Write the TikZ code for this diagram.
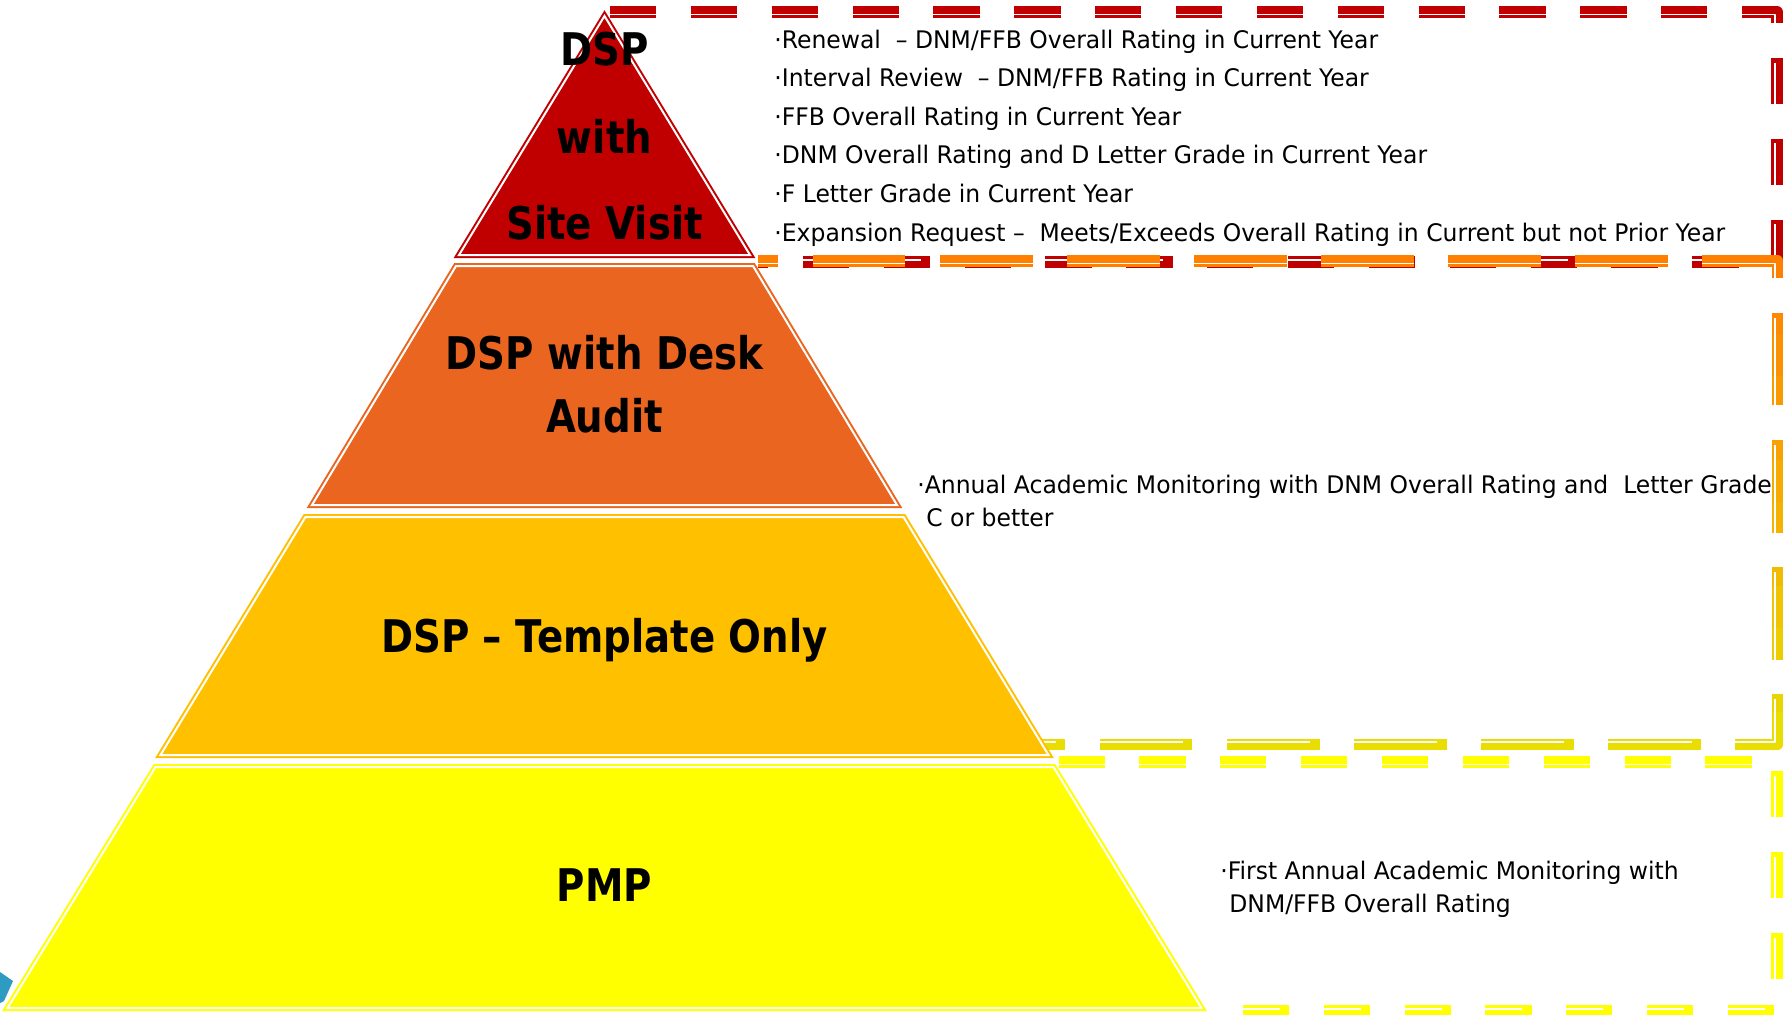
\documentclass[tikz,border=0pt]{standalone}
\usepackage{fontspec}
\newfontfamily\labfont[FakeStretch=0.86]{DejaVu Sans}
\newfontfamily\itemfont[FakeStretch=0.97]{DejaVu Sans}
\definecolor{layRed}{HTML}{C00000}
\definecolor{layOrange}{HTML}{E96520}
\definecolor{layAmber}{HTML}{FFC000}
\definecolor{layYellow}{HTML}{FFFF00}
\definecolor{boxRed}{HTML}{C00000}
\definecolor{boxOrange}{HTML}{FF8000}
\definecolor{boxGold}{HTML}{E9DE00}
\definecolor{boxYellow}{HTML}{FFFF00}
\definecolor{cornerTeal}{HTML}{2E9CC0}
\begin{document}
\begin{tikzpicture}[x=0.5pt, y=-0.5pt,
    layer/.style={draw=#1, fill=#1, line width=1pt, double=white, double distance=1pt},
    dashbox/.style={line width=5.78pt, line join=round},
    dashline/.style={draw=white, line width=0.8pt, line join=round},
    shortdash/.style={dash pattern=on 23.1pt off 17.33pt},
    longdash/.style={dash pattern=on 46.2pt off 17.33pt},
    lab/.style={font=\labfont\bfseries\fontsize{22.5}{27}\selectfont, inner sep=0pt, anchor=base},
    item/.style={font=\itemfont\fontsize{12.1}{14}\selectfont, inner sep=0pt, anchor=base west}]

    \useasboundingbox (0,0) rectangle (1785,1014);

    % dashed boxes behind the pyramid
    \draw[dashbox, shortdash, draw=boxRed] (610,12) -- (1777,12) -- (1777,262) -- (758,262);
    \draw[dashline, shortdash] (610,14.3) -- (1774.7,14.3) -- (1774.7,259.7) -- (758,259.7);

    \foreach \k in {0,...,11} {
        \pgfmathsetmacro\mix{100-\k*100/11}
        \begin{scope}
            \clip (600,{250+\k*42}) rectangle (1785,{292+\k*42});
            \draw[dashbox, longdash, dash phase=36pt, draw=boxOrange!\mix!boxGold] (758,261) -- (1777.5,261) -- (1777.5,744.5) -- (1000,744.5);
        \end{scope}
    }
    \draw[dashline, longdash, dash phase=36pt] (758,263.3) -- (1775.2,263.3) -- (1775.2,742.2) -- (1000,742.2);

    \draw[dashbox, shortdash, draw=boxYellow] (1058.5,762) -- (1777,762) -- (1777,1011) -- (1240,1011);
    \draw[dashline, shortdash] (1058.5,764.3) -- (1774.7,764.3) -- (1774.7,1008.7) -- (1240,1008.7);

    % pyramid
    \filldraw[layer=layRed] (604.5,16) -- (750,255) -- (459,255) -- cycle;
    \filldraw[layer=layOrange] (456,266) -- (753,266) -- (897,505) -- (312,505) -- cycle;
    \filldraw[layer=layAmber] (305.5,517) -- (903.5,517) -- (1048.5,755) -- (160.5,755) -- cycle;
    \filldraw[layer=layYellow] (155.5,767) -- (1053.5,767) -- (1201.5,1008) -- (7.5,1008) -- cycle;

    \fill[cornerTeal] (0,972) -- (13,981) -- (4,1001) -- (0,1003) -- cycle;

    \node[lab] (dsp) at (604.5,65) {DSP};
    \node[lab] (with) at (604.5,153) {with};
    \node[lab] (site) at (604.5,239) {Site Visit};
    \node[lab] (desk) at (604.5,369) {DSP with Desk};
    \node[lab] (audit) at (604.5,432) {Audit};
    \node[lab] (template) at (604.5,652) {DSP – Template Only};
    \node[lab] (pmp) at (604.5,901) {PMP};

    % texts beside the layers
    \foreach \t [count=\i] in {{Renewal\ \ – DNM/FFB Overall Rating in Current Year},
        {Interval Review\ \ – DNM/FFB Rating in Current Year},
        {FFB Overall Rating in Current Year},
        {DNM Overall Rating and D Letter Grade in Current Year},
        {F Letter Grade in Current Year},
        {Expansion Request –\ \ Meets/Exceeds Overall Rating in Current but not Prior Year}}
        \node[item] (r\i) at (774,{48+(\i-1)*38.6}) {·\t};

    \node[item] (m1) at (917,493) {·Annual Academic Monitoring with DNM Overall Rating and\ \ Letter Grade};
    \node[item] (m2) at (926,526) {C or better};

    \node[item] (y1) at (1220,879) {·First Annual Academic Monitoring with};
    \node[item] (y2) at (1229,912) {DNM/FFB Overall Rating};
\end{tikzpicture}
\end{document}
